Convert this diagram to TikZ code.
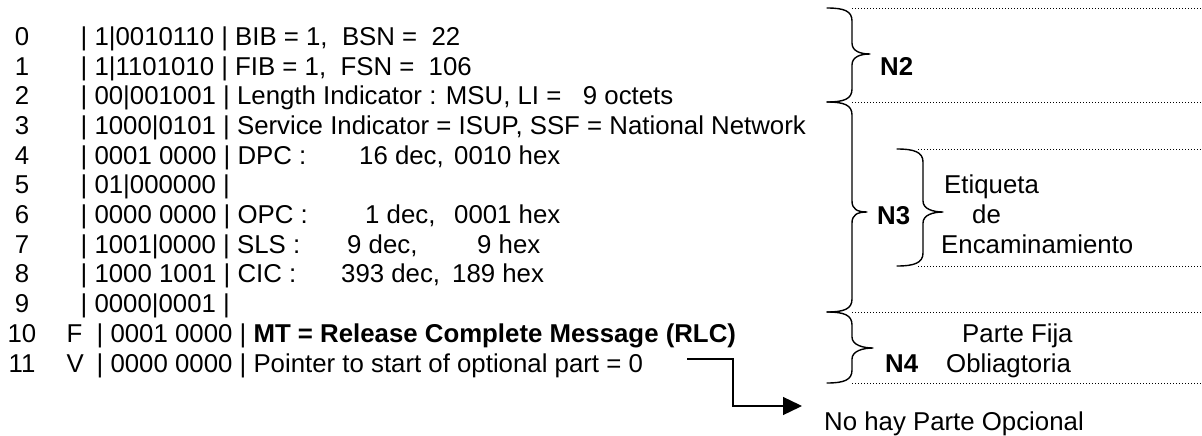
\documentclass[tikz,border=0pt]{standalone}
\usepackage{fontspec}
\setmainfont{Liberation Sans}
\usetikzlibrary{arrows.meta}

% Curly brace opening to the right:
% #1 x of the curled ends, #2 x of the bar, #3 x of the tip,
% #4 top y, #5 tip y, #6 bottom y (y grows downwards)
\newcommand{\sidebrace}[6]{%
  \draw[bracestroke] (#1,#4) .. controls (#1+17,#4) and (#2,#4+3) .. (#2,#4+13)
    -- (#2,#5-11) .. controls (#2,#5-3) and (#3-10,#5) .. (#3,#5)
    .. controls (#3-10,#5) and (#2,#5+3) .. (#2,#5+11)
    -- (#2,#6-13) .. controls (#2,#6-3) and (#1+17,#6) .. (#1,#6);}

\begin{document}
\begin{tikzpicture}[x=1pt,y=-1pt,
  every node/.style={inner sep=0pt},
  txt/.style={anchor=base west},
  num/.style={anchor=base},
  lvl/.style={anchor=base west,font=\bfseries},
  bracestroke/.style={line width=1.4pt,line join=round,line cap=round},
  dotline/.style={line width=0.9pt,dash pattern=on 1.1pt off 1.9pt},
  flow/.style={line width=1.3pt,-{Triangle[length=19pt,width=18pt]}}]
\useasboundingbox (0,0) rectangle (1202,436);
\fontsize{25.8}{30}\selectfont

% octet numbers
\node[num] (n0)  at (22,45.3)  {0};
\node[num] (n1)  at (22,75.0)  {1};
\node[num] (n2)  at (22,104.7) {2};
\node[num] (n3)  at (22,134.4) {3};
\node[num] (n4)  at (22,164.1) {4};
\node[num] (n5)  at (22,193.8) {5};
\node[num] (n6)  at (22,223.5) {6};
\node[num] (n7)  at (22,253.2) {7};
\node[num] (n8)  at (22,282.9) {8};
\node[num] (n9)  at (22,312.6) {9};
\node[num] (n10) at (22,342.3) {10};
\node[num] (n11) at (22,372.0) {11};

% field contents
\node[txt] (r0) at (80.5,45.3)  {| 1|0010110 | BIB = 1,\ \ BSN =\ \ 22};
\node[txt] (r1) at (80.5,75.0)  {| 1|1101010 | FIB = 1,\ \ FSN =\ \ 106};
\node[txt] (r2) at (80.5,104.7) {| 00|001001 | Length Indicator : MSU, LI =\ \ \ 9 octets};
\node[txt] (r3) at (80.5,134.4) {| 1000|0101 | Service Indicator = ISUP, SSF = National Network};
\node[txt] (r4) at (80.5,164.1) {| 0001 0000 | DPC :};
\node[txt] (r4b) at (359,164.1) {16 dec,};
\node[txt] (r4c) at (454,164.1) {0010 hex};
\node[txt] (r5) at (80.5,193.8) {| 01|000000 |};
\node[txt] (r6) at (80.5,223.5) {| 0000 0000 | OPC :};
\node[txt] (r6b) at (365,223.5) {1 dec,};
\node[txt] (r6c) at (454,223.5) {0001 hex};
\node[txt] (r7) at (80.5,253.2) {| 1001|0000 | SLS :};
\node[txt] (r7b) at (347,253.2) {9 dec,};
\node[txt] (r7c) at (477,253.2) {9 hex};
\node[txt] (r8) at (80.5,282.9) {| 1000 1001 | CIC :};
\node[txt] (r8b) at (341,282.9) {393 dec,};
\node[txt] (r8c) at (452,282.9) {189 hex};
\node[txt] (r9) at (80.5,312.6) {| 0000|0001 |};
\node[txt] (f10) at (66.5,342.3) {F};
\node[txt] (r10) at (96.5,342.3) {| 0001 0000 | \textbf{MT = Release Complete Message (RLC)}};
\node[txt] (f11) at (66.5,372.0) {V};
\node[txt] (r11) at (96.5,372.0) {| 0000 0000 | Pointer to start of optional part = 0};

% level boundaries
\draw[dotline] (852,8)   -- (1202,8);
\draw[dotline] (852,102) -- (1202,102);
\draw[dotline] (918,149) -- (1202,149);
\draw[dotline] (918,266) -- (1202,266);
\draw[dotline] (852,312) -- (1202,312);
\draw[dotline] (852,383) -- (1202,383);

% braces
\sidebrace{827}{852}{870}{8}{54}{102}
\sidebrace{827}{852}{867}{102}{212}{312}
\sidebrace{827}{852}{873}{312}{348}{383}
\sidebrace{897}{923}{943}{149}{212}{266}

% level labels
\node[lvl] (lN2) at (880,75.5) {N2};
\node[lvl] (lN3) at (877,224.5) {N3};
\node[lvl] (lN4) at (885,372.0) {N4};
\node[txt] (et1) at (944,193.8) {Etiqueta};
\node[txt] (et2) at (972,223.5) {de};
\node[txt] (et3) at (941,253.2) {Encaminamiento};
\node[txt] (pf1) at (962,342.3) {Parte Fija};
\node[txt] (pf2) at (946,372.0) {Obliagtoria};
\node[txt] (noopt) at (824,430) {No hay Parte Opcional};

% pointer to the (absent) optional part
\coordinate (optStart) at (687,359);
\coordinate (optEnd) at (802,406);
\draw[flow] (optStart) -- (733,359) |- (optEnd);
\end{tikzpicture}
\end{document}
